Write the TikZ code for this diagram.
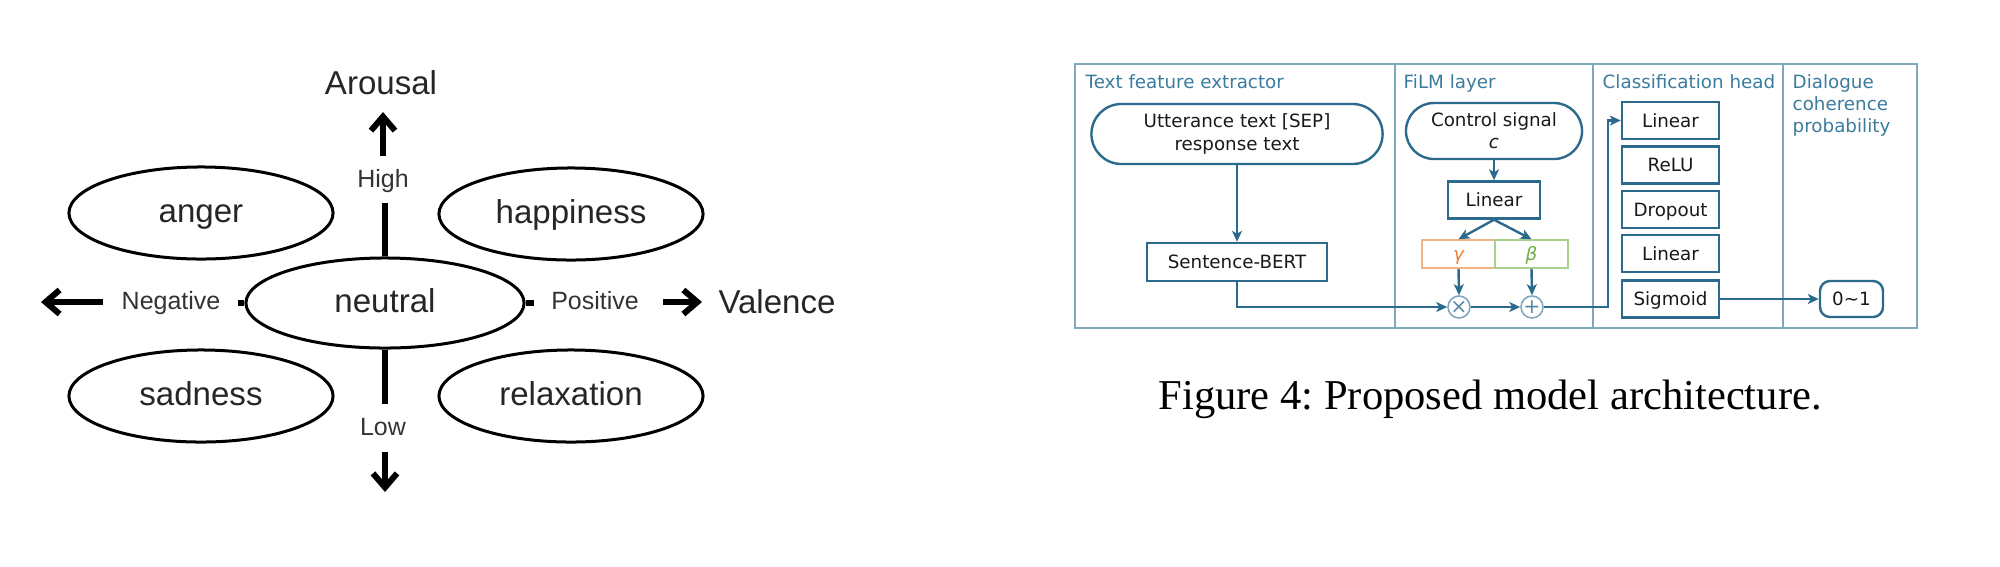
\documentclass[tikz,border=0pt]{standalone}
\usepackage{fontspec}
\setmainfont{Liberation Serif}
\newfontfamily\lsans{Liberation Sans}
\newfontfamily\rsans{DejaVu Sans}
\usetikzlibrary{arrows.meta,shapes.geometric}
\definecolor{boxcol}{HTML}{2C6A8D}
\definecolor{headcol}{HTML}{3A7B9E}
\definecolor{framecol}{HTML}{7FA7BE}
\definecolor{circcol}{HTML}{7FA8BF}
\definecolor{gamline}{HTML}{F4B183}
\definecolor{gamtxt}{HTML}{ED7D31}
\definecolor{betline}{HTML}{A9D18E}
\definecolor{bettxt}{HTML}{70AD47}
\frenchspacing
\begin{document}
\begin{tikzpicture}[x=0.01cm,y=-0.01cm,
  emo/.style={draw=black, line width=0.03cm, ellipse, minimum width=2.64cm, minimum height=0.92cm,
    inner sep=0pt, font=\lsans\fontsize{9.4pt}{11pt}\selectfont, text=black!85,
    text height=6.8pt, text depth=1.6pt},
  biglab/.style={font=\lsans\fontsize{9.4pt}{11pt}\selectfont, inner sep=0pt, text=black!85},
  smalllab/.style={font=\lsans\fontsize{7.1pt}{8.5pt}\selectfont, inner sep=0pt, text=black!80},
  axisline/.style={line width=0.06cm},
  axarrow/.style={line width=0.06cm, -{Straight Barb[length=0.14cm, width=0.24cm]}},
  rfont/.style={font=\rsans\fontsize{5.2pt}{6.3pt}\selectfont},
  blk/.style={draw=boxcol, line width=0.024cm, rectangle, inner sep=0pt, rfont, text=black!90},
  capc/.style={text height=3.8pt, text depth=0pt},
  circ/.style={circle, draw=circcol, line width=0.016cm, minimum size=0.22cm, inner sep=0pt,
    font=\rsans\fontsize{5.8pt}{5.8pt}\selectfont, text=boxcol!80},
  arr/.style={draw=boxcol, line width=0.024cm, -{Stealth[length=0.11cm,width=0.1cm,inset=0.03cm]}},
  head/.style={rfont, text=headcol, inner sep=0pt, anchor=base west},
  frameline/.style={draw=framecol, line width=0.02cm}
]
\useasboundingbox (0,0) rectangle (2000,566);

% ---------------- left: valence-arousal plane ----------------
\node[emo] (anger) at (201,213) {anger};
\node[emo] (happy) at (571,214) {happiness};
\node[emo] (sad) at (201,396) {sadness};
\node[emo] (relax) at (571,396) {relaxation};
\node[emo, minimum width=2.78cm, minimum height=0.9cm] (neutral) at (385,303) {neutral};

\node[biglab, anchor=base] (arousal) at (381,94) {Arousal};
\node[smalllab, anchor=base] (high) at (383,187) {High};
\node[smalllab, anchor=base] (low) at (383,435) {Low};
\node[smalllab, anchor=base] (neg) at (171,309) {Negative};
\node[smalllab, anchor=base] (pos) at (595,309) {Positive};
\node[biglab, anchor=base] (valence) at (777,313) {Valence};

\coordinate (upS) at (383,156);   \coordinate (upT) at (383,112);
\coordinate (dnS) at (385,452);   \coordinate (dnT) at (385,492);
\coordinate (lfS) at (103,302);   \coordinate (lfT) at (41,302);
\coordinate (rtS) at (663,302);   \coordinate (rtT) at (702,302);
\draw[axarrow] (upS) -- (upT);
\draw[axarrow] (dnS) -- (dnT);
\draw[axarrow] (lfS) -- (lfT);
\draw[axarrow] (rtS) -- (rtT);
\draw[axisline] (neutral.north) -- ++(0,-53);
\draw[axisline] (neutral.south) -- ++(0,54);
\draw[axisline] (neutral.west) -- ++(-6,0);
\draw[axisline] (neutral.east) -- ++(8,0);

% ---------------- right: model architecture ----------------
\draw[frameline] (1075,64) rectangle (1917,328);
\draw[frameline] (1395,64) -- (1395,328);
\draw[frameline] (1593,64) -- (1593,328);
\draw[frameline] (1783,64) -- (1783,328);

\node[head] (h1) at (1085,88) {Text feature extractor};
\node[head] (h2) at (1403,88) {FiLM layer};
\node[head] (h3) at (1602,88) {Classification head};
\node[head, anchor=north west, align=left] (h4) at (1792,74) {Dialogue\\coherence\\probability};

\node[blk, rounded corners=0.3cm, minimum width=2.91cm, minimum height=0.6cm, align=center] (utt) at (1237,134) {Utterance text [SEP]\\response text};
\node[blk, capc, minimum width=1.8cm, minimum height=0.38cm] (sbert) at (1237,262) {Sentence-BERT};

\node[blk, rounded corners=0.28cm, minimum width=1.76cm, minimum height=0.56cm, align=center] (ctrl) at (1494,131) {Control signal\\{\itshape c}};
\node[blk, capc, minimum width=0.92cm, minimum height=0.37cm] (lin0) at (1494,200) {Linear};
\node[blk, capc, draw=gamline, line width=0.016cm, text=gamtxt, minimum width=0.73cm, minimum height=0.28cm] (gam) at (1458.5,254) {\itshape γ};
\node[blk, capc, draw=betline, line width=0.016cm, text=bettxt, minimum width=0.73cm, minimum height=0.28cm] (bet) at (1531.5,254) {\itshape β};
\node[circ] (mul) at (1459,307) {×};
\node[circ] (plus) at (1532,307) {+};

\node[blk, capc, minimum width=0.97cm, minimum height=0.37cm] (c1) at (1670.5,120.5) {Linear};
\node[blk, capc, minimum width=0.97cm, minimum height=0.37cm] (c2) at (1670.5,165) {ReLU};
\node[blk, capc, minimum width=0.97cm, minimum height=0.37cm] (c3) at (1670.5,209.5) {Dropout};
\node[blk, capc, minimum width=0.97cm, minimum height=0.37cm] (c4) at (1670.5,253.5) {Linear};
\node[blk, capc, minimum width=0.97cm, minimum height=0.37cm] (c5) at (1670.5,299) {Sigmoid};
\node[blk, capc, rounded corners=0.1cm, minimum width=0.63cm, minimum height=0.36cm] (out) at (1851.5,299) {0∼1};

\draw[arr] (utt.south) -- (sbert.north);
\draw[arr] (sbert.south) |- (mul.west);
\draw[arr] (ctrl.south) -- (lin0.north);
\draw[arr] (lin0.south) -- (gam.north);
\draw[arr] (lin0.south) -- (bet.north);
\draw[arr] (gam.south) -- (mul.north);
\draw[arr] (bet.south) -- (plus.north);
\draw[arr] (mul.east) -- (plus.west);
\draw[arr] (plus.east) -- ++(64,0) |- (c1.west);
\draw[arr] (c5.east) -- (out.west);

\node[anchor=base west, inner sep=0pt, font=\fontsize{12.1pt}{14pt}\selectfont] (caption) at (1158,409) {Figure 4: Proposed model architecture.};
\end{tikzpicture}
\end{document}
